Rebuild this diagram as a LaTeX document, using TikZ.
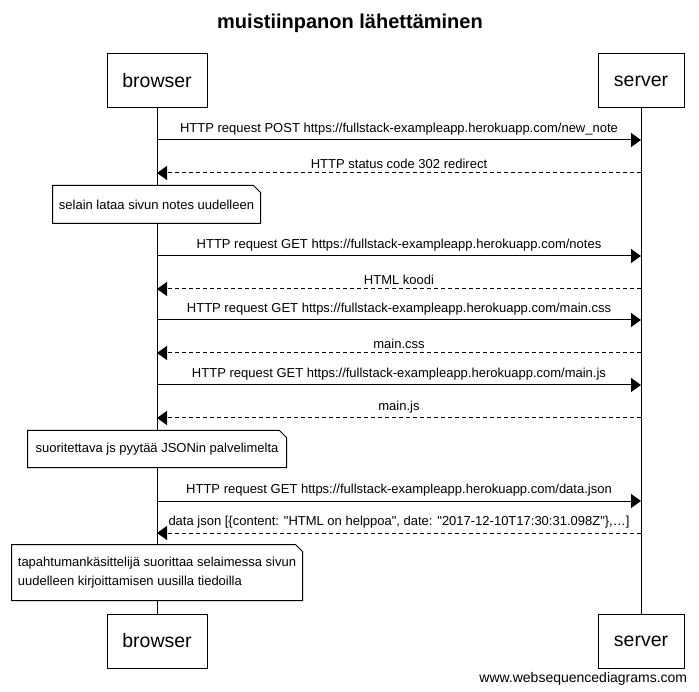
\documentclass[tikz,border=0pt]{standalone}
\usepackage{fontspec}
\setmainfont{Liberation Sans}[Ligatures=TeXOff]
\usetikzlibrary{arrows.meta}

\begin{document}
\begin{tikzpicture}[x=1pt,y=-1pt,line width=1pt,
	actor/.style={draw,minimum width=100pt,minimum height=54pt,font=\fontsize{19.5}{23}\selectfont},
	note/.style={fill=white,minimum height=37pt,inner xsep=5pt,font=\fontsize{13}{19}\selectfont,align=left},
	msg/.style={-{Triangle[length=10pt,width=14pt]}},
	reply/.style={msg,dash pattern=on 4pt off 3pt},
	lbl/.style={above=3pt,inner sep=1pt,font=\fontsize{13}{15}\selectfont}]
\useasboundingbox (0,0) rectangle (699,692);

%title
\node [font=\bfseries\fontsize{20}{24}\selectfont] (title) at (350,23) {muistiinpanon lähettäminen};

%participants, top and bottom
\node [actor] (browser) at (157,81) {browser};
\node [actor,minimum width=86pt] (server) at (641,81) {server};
\node [actor] (browser2) at (157,641) {browser};
\node [actor,minimum width=86pt] (server2) at (641,641) {server};
%lifelines
\draw (browser) -- (browser2);
\draw (server) -- (server2);

%new note
\draw [msg] (browser |- 0,140) -- (server |- 0,140) node [lbl,midway] {HTTP request POST https://fullstack-exampleapp.herokuapp.com/new\_note};
\draw [reply] (server |- 0,173) -- (browser |- 0,173) node [lbl,midway] {HTTP status code 302 redirect};

%reload
\draw [msg] (browser |- 0,256) -- (server |- 0,256) node [lbl,midway] {HTTP request GET https://fullstack-exampleapp.herokuapp.com/notes};
\draw [reply] (server |- 0,289) -- (browser |- 0,289) node [lbl,midway] {HTML koodi};
\draw [msg] (browser |- 0,320) -- (server |- 0,320) node [lbl,midway] {HTTP request GET https://fullstack-exampleapp.herokuapp.com/main.css};
\draw [reply] (server |- 0,353) -- (browser |- 0,353) node [lbl,midway] {main.css};
\draw [msg] (browser |- 0,385) -- (server |- 0,385) node [lbl,midway] {HTTP request GET https://fullstack-exampleapp.herokuapp.com/main.js};
\draw [reply] (server |- 0,418) -- (browser |- 0,418) node [lbl,midway] {main.js};

%json
\draw [msg] (browser |- 0,501) -- (server |- 0,501) node [lbl,midway] {HTTP request GET https://fullstack-exampleapp.herokuapp.com/data.json};
\draw [reply] (server |- 0,533) -- (browser |- 0,533) node [lbl,midway] {data json [\{content: "HTML on helppoa", date: "2017-12-10T17:30:31.098Z"\},…]};

%notes
\node [note,minimum width=207pt] (note1) at (156.5,204.5) {selain lataa sivun notes uudelleen};
\node [note,minimum width=258pt,minimum height=36pt] (note2) at (157,449) {suoritettava js pyytää JSONin palvelimelta};
\node [note,minimum width=290pt,minimum height=55pt] (note3) at (157,572.5) {tapahtumankäsittelijä suorittaa selaimessa sivun\\uudelleen kirjoittamisen uusilla tiedoilla};
\foreach \n in {note1,note2,note3}{
	\draw (\n.south west) -- (\n.north west) -- ([xshift=-7pt]\n.north east) -- ([yshift=-7pt]\n.north east) -- (\n.south east) -- cycle;
}

%footer
\node [anchor=east,font=\fontsize{14}{16}\selectfont] (site) at (691,679) {www.websequencediagrams.com};
\end{tikzpicture}
\end{document}
